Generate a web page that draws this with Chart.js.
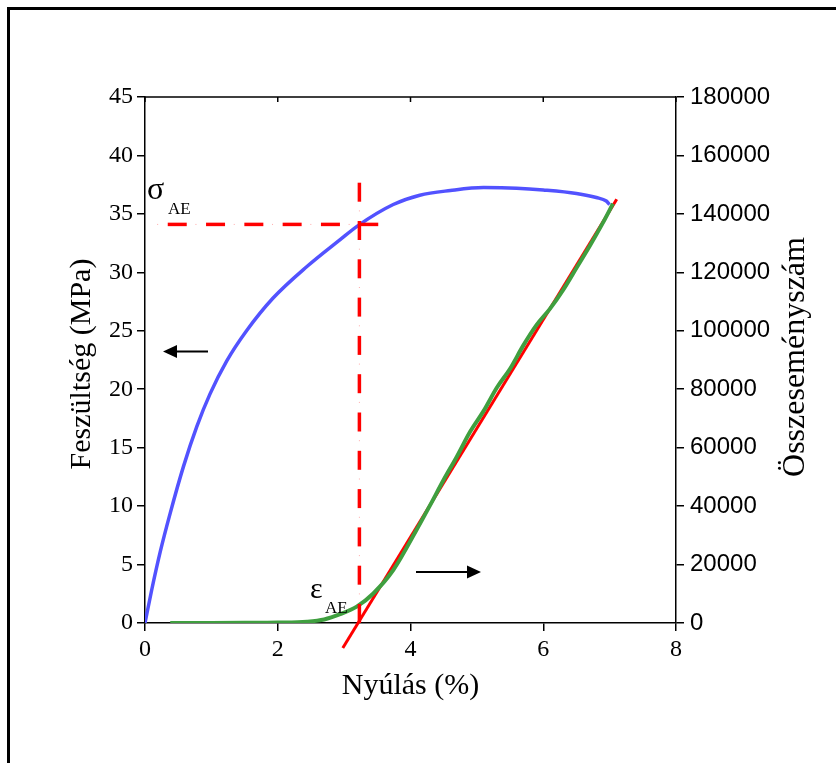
<!DOCTYPE html>
<html>
<head>
<meta charset="utf-8">
<script src="https://cdn.jsdelivr.net/npm/chart.js@4.4.1/dist/chart.umd.min.js"></script>
<style>
  html, body { margin: 0; padding: 0; background: #fff; }
  #wrap { width: 836px; height: 763px; position: relative; }
</style>
</head>
<body>
<div id="wrap"><canvas id="chart" width="836" height="763"></canvas></div>
<script>
// strain (%) vs stress (MPa)
const stressX = [0, 0.1, 0.23, 0.38, 0.58, 0.78, 0.98, 1.23, 1.53, 1.93, 2.44, 2.94, 3.21, 3.74, 4.14, 4.6, 5.1, 5.6, 6.0, 6.5, 6.8, 6.95, 7.0];
const stressY = [0, 2.8, 6.1, 9.4, 13.4, 16.8, 19.6, 22.4, 25.0, 27.8, 30.5, 32.8, 34.0, 35.8, 36.6, 37.0, 37.25, 37.2, 37.05, 36.75, 36.4, 36.1, 35.8];

// strain (%) vs cumulative event count
const countX = [0.38, 1.0, 1.5, 2.0, 2.44, 2.7, 2.94, 3.19, 3.44, 3.74, 4.09, 4.3, 4.5, 4.7, 4.9, 5.1, 5.3, 5.5, 5.7, 5.9, 6.1, 6.3, 6.5, 6.7, 6.9, 7.05];
const countY = [0, 0, 50, 150, 450, 1200, 3000, 5600, 10100, 18100, 31800, 40500, 49000, 57000, 65500, 72500, 80500, 87000, 95000, 102000, 107500, 114000, 121500, 129000, 137000, 143500];

// linear fit of the event count
const fitX = [2.98, 7.107];
const fitY = [-8550, 145000];

// AE onset markers (drawn from the axis towards the label)
const epsAE = 3.23;
const sigmaAE = 34.1;
const markV = { x: [epsAE, epsAE], y: [0, 38.3] };
const markH = { x: [3.514, 0.176], y: [sigmaAE, sigmaAE] };

const xTicks = [0, 2, 4, 6, 8];

const pts = (xs, ys) => xs.map((x, i) => ({ x: x, y: ys[i] }));

const serif = '"Liberation Serif", "Times New Roman", serif';
const sans = '"Liberation Sans", Arial, sans-serif';

// dash-dot marker line: long red dash, faint pink dot in the gap
function dashDot(ctx, x1, y1, x2, y2) {
    const len = Math.hypot(x2 - x1, y2 - y1);
    const ux = (x2 - x1) / len, uy = (y2 - y1) / len;
    const period = 38.3, dash = 19;
    for (let t = 0; t < len; t += period) {
        const e = Math.min(t + dash, len);
        ctx.strokeStyle = '#ff0000';
        ctx.lineWidth = 3.5;
        ctx.beginPath();
        ctx.moveTo(x1 + ux * t, y1 + uy * t);
        ctx.lineTo(x1 + ux * e, y1 + uy * e);
        ctx.stroke();
        const d = t + 28.6;
        if (d < len) {
            ctx.strokeStyle = '#ffaaaa';
            ctx.lineWidth = 1;
            ctx.beginPath();
            ctx.moveTo(x1 + ux * d, y1 + uy * d);
            ctx.lineTo(x1 + ux * (d + 1), y1 + uy * (d + 1));
            ctx.stroke();
        }
    }
}

const extras = {
    id: 'extras',
    afterDatasetsDraw(c) {
        const ctx = c.ctx;
        const sx = c.scales.x, sy = c.scales.y;
        ctx.save();
        [markV, markH].forEach(m => {
            dashDot(ctx,
                sx.getPixelForValue(m.x[0]), sy.getPixelForValue(m.y[0]),
                sx.getPixelForValue(m.x[1]), sy.getPixelForValue(m.y[1]));
        });
        ctx.restore();
    },
    afterDraw(c) {
        const ctx = c.ctx;
        const a = c.chartArea;
        const sx = c.scales.x;
        ctx.save();
        // outer frame
        ctx.strokeStyle = '#000';
        ctx.lineWidth = 3;
        ctx.beginPath();
        ctx.moveTo(8.5, 770);
        ctx.lineTo(8.5, 8.5);
        ctx.lineTo(840, 8.5);
        ctx.stroke();

        // top border + inward ticks
        ctx.lineWidth = 1.5;
        ctx.beginPath();
        ctx.moveTo(a.left, a.top);
        ctx.lineTo(a.right, a.top);
        xTicks.forEach(t => {
            const px = sx.getPixelForValue(t);
            ctx.moveTo(px, a.top);
            ctx.lineTo(px, a.top + 5);
        });
        ctx.stroke();

        // axis titles
        ctx.fillStyle = '#000';
        ctx.textAlign = 'center';
        ctx.textBaseline = 'middle';
        ctx.font = '30px ' + serif;
        ctx.fillText('Nyúlás (%)', (a.left + a.right) / 2, 686);
        ctx.save();
        ctx.translate(82, 364);
        ctx.rotate(-Math.PI / 2);
        ctx.fillText('Feszültség (MPa)', 0, 0);
        ctx.restore();
        ctx.save();
        ctx.translate(796, 357);
        ctx.rotate(-Math.PI / 2);
        ctx.font = '32px ' + serif;
        ctx.fillText('Összeseményszám', 0, 0);
        ctx.restore();

        // sigma_AE / eps_AE labels
        ctx.textAlign = 'left';
        ctx.textBaseline = 'alphabetic';
        ctx.font = '32px ' + serif;
        ctx.fillText('σ', 147, 199);
        ctx.font = '17px ' + serif;
        ctx.fillText('AE', 168, 214);
        ctx.font = '30px ' + serif;
        ctx.fillText('ε', 310, 598);
        ctx.font = '17px ' + serif;
        ctx.fillText('AE', 325, 613);

        // arrows
        const arrow = (x1, x2, y) => {
            const dir = Math.sign(x2 - x1);
            ctx.strokeStyle = '#000';
            ctx.lineWidth = 2;
            ctx.beginPath();
            ctx.moveTo(x1, y);
            ctx.lineTo(x2 - dir * 10, y);
            ctx.stroke();
            ctx.beginPath();
            ctx.moveTo(x2, y);
            ctx.lineTo(x2 - dir * 14, y - 6.5);
            ctx.lineTo(x2 - dir * 14, y + 6.5);
            ctx.closePath();
            ctx.fill();
        };
        arrow(208, 163, 351.5);
        arrow(416, 481, 572);
        ctx.restore();
    }
};

const axisCommon = {
    border: { display: true, color: '#000', width: 1.5 },
    grid: { drawOnChartArea: false, drawTicks: true, tickLength: 8, color: '#000', lineWidth: 1.5 },
};

new Chart(document.getElementById('chart'), {
    type: 'line',
    data: {
        datasets: [
            {
                data: pts(stressX, stressY), yAxisID: 'y',
                borderColor: '#5252ff', borderWidth: 3.5, pointRadius: 0, cubicInterpolationMode: 'monotone'
            },
            {
                data: pts(countX, countY), yAxisID: 'y1',
                borderColor: '#3f9f3f', borderWidth: 4, pointRadius: 0, cubicInterpolationMode: 'monotone'
            },
            {
                data: pts(fitX, fitY), yAxisID: 'y1', clip: false,
                borderColor: '#ff0000', borderWidth: 3, pointRadius: 0
            }
        ]
    },
    options: {
        responsive: false,
        animation: false,
        layout: { padding: { top: 97, left: 0, right: 0, bottom: 0 } },
        plugins: { legend: { display: false }, tooltip: { enabled: false } },
        scales: {
            x: {
                type: 'linear', min: 0, max: 8,
                ...axisCommon,
                afterFit: s => { s.height = 140; },
                afterBuildTicks: s => { s.ticks = xTicks.map(v => ({ value: v })); },
                ticks: { color: '#000', padding: 4, maxRotation: 0, font: { family: serif, size: 24 } }
            },
            y: {
                position: 'left', min: 0, max: 45,
                ...axisCommon,
                afterFit: s => { s.width = 145; },
                ticks: { stepSize: 5, color: '#000', padding: 4, font: { family: serif, size: 24 } }
            },
            y1: {
                position: 'right', min: 0, max: 180000,
                ...axisCommon,
                afterFit: s => { s.width = 160; },
                ticks: { stepSize: 20000, color: '#000', padding: 6, font: { family: sans, size: 24 },
                    callback: v => String(v) }
            }
        }
    },
    plugins: [extras]
});
</script>
</body>
</html>
